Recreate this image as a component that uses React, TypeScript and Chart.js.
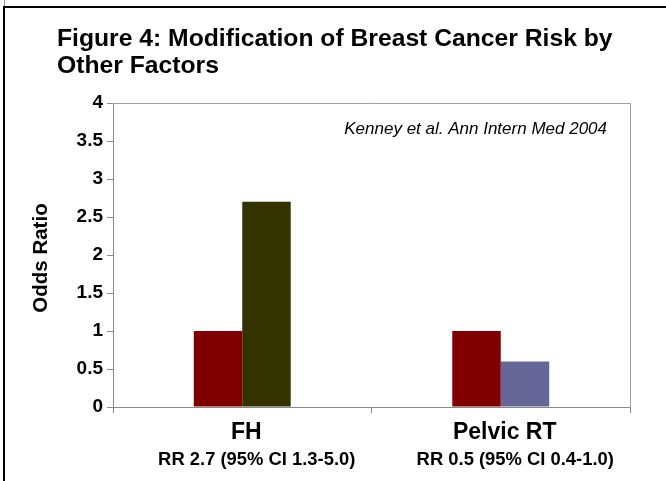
import React, { useEffect, useRef } from "react";
import { Chart, registerables } from "chart.js";

Chart.register(...registerables);

const titleLines = ["Figure 4: Modification of Breast Cancer Risk by", "Other Factors"];
const categories = ["FH", "Pelvic RT"];
const subLabels = ["RR 2.7 (95% CI 1.3-5.0)", "RR 0.5 (95% CI 0.4-1.0)"];
const baselineValues = [1, 1];
const factorValues = [2.7, 0.6];
const baselineColor = "#800000";
const factorColors = ["#333300", "#666699"];
const yTicks = [0, 0.5, 1, 1.5, 2, 2.5, 3, 3.5, 4];
const yTitle = "Odds Ratio";
const sourceNote = "Kenney et al. Ann Intern Med 2004";

const FONT = "'Liberation Sans', Arial, Helvetica, sans-serif";
const AXIS_GRAY = "#8a8a8a";

const decorPlugin = {
  id: "decor",
  beforeDraw(chart: any) {
    const { ctx, width, height, chartArea } = chart;
    ctx.save();
    ctx.fillStyle = "#ffffff";
    ctx.fillRect(0, 0, width, height);
    // frame
    ctx.fillStyle = "#000000";
    ctx.fillRect(3, 6, width - 3, 2);
    ctx.fillRect(3, 6, 2, height - 6);
    ctx.fillStyle = "#9a9a9a";
    ctx.fillRect(4, 0, 1, 6);
    // title
    ctx.fillStyle = "#000000";
    ctx.font = `bold 24.7px ${FONT}`;
    ctx.textAlign = "left";
    ctx.textBaseline = "middle";
    titleLines.forEach((t, i) => ctx.fillText(t, 57, 39 + i * 27));
    // y title
    ctx.save();
    ctx.translate(41, (chartArea.top + chartArea.bottom) / 2 + 3);
    ctx.rotate(-Math.PI / 2);
    ctx.font = `bold 20.5px ${FONT}`;
    ctx.textAlign = "center";
    ctx.textBaseline = "middle";
    ctx.fillText(yTitle, 0, 0);
    ctx.restore();
    ctx.restore();
  },
  afterDraw(chart: any) {
    const { ctx, chartArea } = chart;
    const xScale = chart.scales.x;
    ctx.save();
    ctx.strokeStyle = "#a0a0a0";
    ctx.lineWidth = 1;
    ctx.beginPath();
    ctx.moveTo(chartArea.left, chartArea.top + 0.5);
    ctx.lineTo(chartArea.right + 0.5, chartArea.top + 0.5);
    ctx.lineTo(chartArea.right + 0.5, chartArea.bottom);
    ctx.stroke();
    // source note
    ctx.fillStyle = "#000000";
    ctx.font = `italic 17px ${FONT}`;
    ctx.textAlign = "right";
    ctx.textBaseline = "middle";
    ctx.fillText(sourceNote, chartArea.right - 23, chartArea.top + 26);
    // sub labels
    ctx.font = `bold 18.4px ${FONT}`;
    ctx.textAlign = "center";
    subLabels.forEach((s, i) => {
      ctx.fillText(s, xScale.getPixelForValue(i) + 14.5, chartArea.bottom + 53);
    });
    ctx.restore();
  },
};

export default function App() {
  const ref = useRef<HTMLCanvasElement | null>(null);
  useEffect(() => {
    if (!ref.current) return;
    const chart = new Chart(ref.current, {
      type: "bar",
      data: {
        labels: categories,
        datasets: [
          {
            label: "Reference",
            data: baselineValues,
            backgroundColor: baselineColor,
            borderWidth: 0,
          },
          {
            label: "Factor",
            data: factorValues,
            backgroundColor: factorColors,
            borderWidth: 0,
          },
        ],
      },
      options: {
        responsive: false,
        animation: false,
        layout: { padding: { left: 0, top: 103, right: 36, bottom: 0 } },
        plugins: {
          legend: { display: false },
          title: { display: false },
          tooltip: { enabled: false },
        },
        datasets: {
          bar: { categoryPercentage: 0.375, barPercentage: 1 },
        },
        scales: {
          x: {
            offset: true,
            grid: {
              offset: true,
              drawOnChartArea: false,
              drawTicks: true,
              tickLength: 6,
              color: AXIS_GRAY,
            },
            border: { color: AXIS_GRAY, width: 1 },
            ticks: {
              color: "#000000",
              font: { family: FONT, size: 23, weight: "bold" },
              padding: 6,
              labelOffset: 4,
            },
            afterFit(scale: any) {
              scale.height = 74;
            },
          },
          y: {
            min: 0,
            max: 4,
            afterBuildTicks(scale: any) {
              scale.ticks = yTicks.map((v) => ({ value: v }));
            },
            grid: {
              drawOnChartArea: false,
              drawTicks: true,
              tickLength: 6,
              color: AXIS_GRAY,
            },
            border: { color: AXIS_GRAY, width: 1 },
            ticks: {
              color: "#000000",
              font: { family: FONT, size: 19, weight: "bold" },
              padding: 4,
              callback: (v: any) => `${v}`,
            },
            afterFit(scale: any) {
              scale.width = 113;
            },
          },
        },
      },
      plugins: [decorPlugin],
    });
    return () => chart.destroy();
  }, []);
  return (
    <div style={{ position: "fixed", left: 0, top: 0, width: 666, height: 481 }}>
      <canvas ref={ref} width={666} height={481} style={{ display: "block" }} />
    </div>
  );
}
